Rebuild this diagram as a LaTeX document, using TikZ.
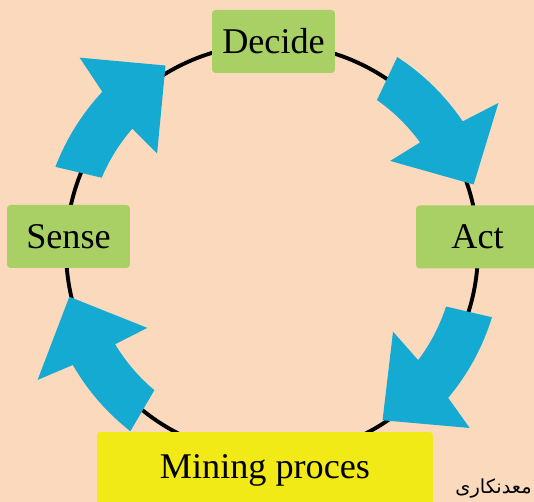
\documentclass[tikz,border=0pt]{standalone}
\usepackage{fontspec}
\setmainfont{Liberation Serif}
\newfontfamily\persianfont[Script=Arabic]{DejaVu Sans}
\TeXXeTstate=1
\definecolor{bgpeach}{RGB}{250, 217, 189}
\definecolor{stagegreen}{RGB}{169, 208, 100}
\definecolor{mineyellow}{RGB}{241, 234, 22}
\definecolor{flowblue}{RGB}{20, 170, 210}
\usepackage{tikz}
\usetikzlibrary{positioning}

\begin{document}
\begin{tikzpicture}[x=0.02cm, y=0.02cm,
  stage/.style={fill=stagegreen, rounded corners=2pt, minimum width=2.46cm, minimum height=1.26cm, inner sep=0pt, font=\fontsize{20.6}{24}\selectfont},
  flow/.style={fill=flowblue}
]
  % Canvas
  \clip (-272, -252) rectangle (262, 250);
  \fill[bgpeach] (-272, -252) rectangle (262, 250);

  % Cycle ring
  \coordinate (hub) at (0, 0);
  \draw[line width=2.2pt] (hub) circle[radius=206];

  % Curved flow arrows, clockwise
  \fill[flow] (57:230) arc[start angle=57, end angle=34, radius=230] -- (33:270) -- (18:212)
    -- (37:148) -- (36:183) arc[start angle=36, end angle=55, radius=183] -- cycle;
  \fill[flow] (-17:230) arc[start angle=-17, end angle=-40, radius=230] -- (-42:266) -- (-57:203)
    -- (-34:146) -- (-37:183) arc[start angle=-37, end angle=-18, radius=183] -- cycle;
  \fill[flow] (232:230) arc[start angle=232, end angle=210, radius=230] -- (209:268) -- (193:208)
    -- (212:147) -- (211:183) arc[start angle=211, end angle=230, radius=183] -- cycle;
  \fill[flow] (159:232) arc[start angle=159, end angle=137, radius=232] -- (135:272) -- (120:213)
    -- (140:150) -- (139:185) arc[start angle=139, end angle=157, radius=185] -- cycle;

  % Stages
  \node[stage] (decide) at (1.5, 208.5) {Decide};
  \node[stage] (act) at (205.5, 13) {Act};
  \node[stage] (sense) at (-203.5, 13.5) {Sense};

  % Process box
  \node[stage, fill=mineyellow, minimum width=6.72cm, minimum height=1.52cm] (mining) at (-7, -220) {Mining proces};

  % Corner caption
  \node[anchor=base east, inner sep=0pt, font=\persianfont\fontsize{11}{13}\selectfont] (caption) at (260, -244) {\beginR معدنکاری\endR};
\end{tikzpicture}
\end{document}
